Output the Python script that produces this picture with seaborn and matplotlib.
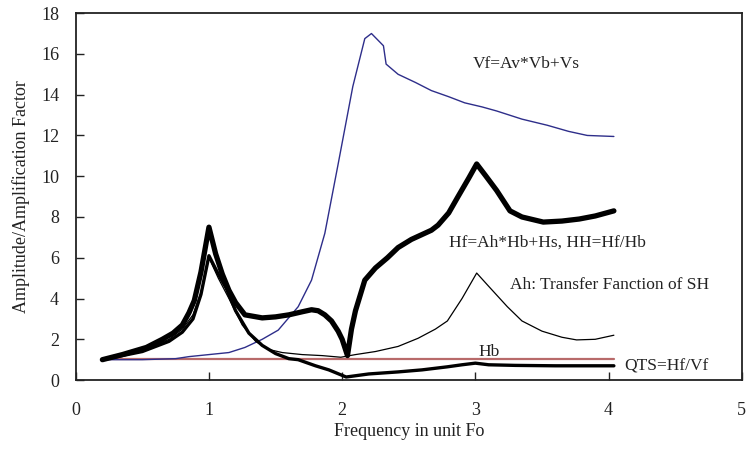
import matplotlib
matplotlib.use("Agg")
import matplotlib.pyplot as plt
import seaborn as sns
import pandas as pd

# ---- data ----
vf_x = [0.2, 0.5, 0.75, 0.85, 1.0, 1.15, 1.27, 1.4, 1.52, 1.67, 1.77, 1.87, 1.97, 2.08, 2.17, 2.22,
        2.31, 2.33, 2.42, 2.55, 2.67, 2.8, 2.92, 3.05, 3.16, 3.35, 3.54, 3.7, 3.84, 4.04]
vf_y = [1.0, 1.0, 1.05, 1.15, 1.25, 1.35, 1.6, 2.0, 2.45, 3.6, 4.9, 7.2, 10.6, 14.4, 16.75, 17.0,
        16.4, 15.5, 15.0, 14.6, 14.2, 13.9, 13.6, 13.4, 13.2, 12.8, 12.5, 12.2, 12.0, 11.95]

hf_x = [0.2, 0.35, 0.53, 0.65, 0.73, 0.8, 0.85, 0.89, 0.94, 1.0, 1.05, 1.1, 1.15, 1.2, 1.27, 1.4,
        1.5, 1.6, 1.7, 1.77, 1.82, 1.87, 1.92, 1.97, 2.0, 2.04, 2.07, 2.1, 2.17, 2.25, 2.34, 2.42,
        2.52, 2.67, 2.72, 2.8, 2.87, 2.95, 3.01, 3.08, 3.16, 3.26, 3.35, 3.51, 3.65, 3.78, 3.9, 4.04]
hf_y = [1.0, 1.25, 1.6, 2.0, 2.3, 2.7, 3.3, 3.9, 5.3, 7.5, 6.2, 5.2, 4.4, 3.8, 3.2, 3.05,
        3.1, 3.2, 3.35, 3.45, 3.4, 3.2, 2.9, 2.4, 2.0, 1.2, 2.5, 3.4, 4.9, 5.5, 6.0, 6.5,
        6.9, 7.35, 7.6, 8.2, 9.0, 9.9, 10.6, 10.0, 9.3, 8.3, 8.0, 7.75, 7.8, 7.9, 8.05, 8.3]

ah_x = [0.2, 0.5, 0.7, 0.8, 0.88, 0.94, 1.0, 1.07, 1.15, 1.25, 1.35, 1.45, 1.55, 1.7, 1.85, 1.99,
        2.1, 2.25, 2.42, 2.57, 2.7, 2.79, 2.9, 3.01, 3.1, 3.24, 3.35, 3.5, 3.65, 3.76, 3.9, 4.04]
ah_y = [1.0, 1.45, 2.0, 2.5, 3.2, 4.3, 6.0, 5.0, 4.0, 2.7, 1.9, 1.5, 1.35, 1.25, 1.2, 1.12,
        1.25, 1.4, 1.65, 2.05, 2.5, 2.9, 4.0, 5.25, 4.6, 3.6, 2.9, 2.4, 2.1, 1.97, 2.0, 2.2]

qts_x = [0.2, 0.5, 0.7, 0.8, 0.88, 0.94, 1.0, 1.07, 1.13, 1.2, 1.3, 1.4, 1.5, 1.6, 1.67, 1.8,
         1.9, 2.03, 2.2, 2.42, 2.6, 2.79, 2.9, 3.0, 3.1, 3.3, 3.6, 3.8, 4.04]
qts_y = [1.0, 1.4, 1.9, 2.35, 3.0, 4.2, 6.1, 5.2, 4.5, 3.4, 2.3, 1.7, 1.3, 1.05, 1.0, 0.7,
         0.5, 0.15, 0.3, 0.4, 0.5, 0.65, 0.75, 0.83, 0.75, 0.72, 0.7, 0.7, 0.7]

hb_x = [0.2, 4.04]
hb_y = [1.05, 1.05]

x_ticks = [0, 1, 2, 3, 4, 5]
y_ticks = [0, 2, 4, 6, 8, 10, 12, 14, 16, 18]

labels = ["Vf=Av*Vb+Vs", "Hf=Ah*Hb+Hs, HH=Hf/Hb", "Ah: Transfer Fanction of SH", "Hb", "QTS=Hf/Vf"]

# ---- plotting ----
sns.set_style("ticks")
plt.rcParams["font.family"] = ["Liberation Serif", "DejaVu Serif"]

fig = plt.figure(figsize=(7.5, 4.53), dpi=100)
ax = fig.add_axes([0.101, 0.161, 0.888, 0.81])

def draw(xs, ys, color, lw):
    df = pd.DataFrame({"x": xs, "y": ys})
    sns.lineplot(data=df, x="x", y="y", ax=ax, color=color, linewidth=lw,
                 sort=False, estimator=None)

draw(hb_x, hb_y, "#b86a6a", 1.6)
draw(vf_x, vf_y, "#2e2e8a", 1.0)
draw(ah_x, ah_y, "black", 0.9)
draw(qts_x, qts_y, "black", 2.4)
draw(hf_x, hf_y, "black", 3.8)

ax.set_xlim(0, 5)
ax.set_ylim(0, 18)
ax.set_xticks(x_ticks)
ax.set_yticks(y_ticks)
ax.set_xticklabels([str(v) for v in x_ticks])
ax.set_yticklabels([str(v) for v in y_ticks])
ax.tick_params(axis="x", direction="in", length=6, width=1, pad=16, labelsize=13, colors="#222222")
ax.tick_params(axis="y", direction="in", length=6, width=1, pad=12, labelsize=13, colors="#222222")
for s in ax.spines.values():
    s.set_visible(True)
    s.set_linewidth(1.3)
    s.set_color("#222222")

ax.set_xlabel("Frequency in unit Fo", fontsize=13, labelpad=3, color="#222222")
ax.set_ylabel("Amplitude/Amplification Factor", fontsize=13, labelpad=8, color="#222222")

tk = dict(fontsize=12.5, color="#222222", va="center", ha="left")
ax.text(2.98, 15.5, labels[0], **tk)
ax.text(2.8, 6.75, labels[1], **tk)
ax.text(3.26, 4.65, labels[2], **tk)
ax.text(3.02, 1.4, labels[3], **tk)
ax.text(4.12, 0.65, labels[4], **tk)

fig.savefig("out.png", dpi=100)
